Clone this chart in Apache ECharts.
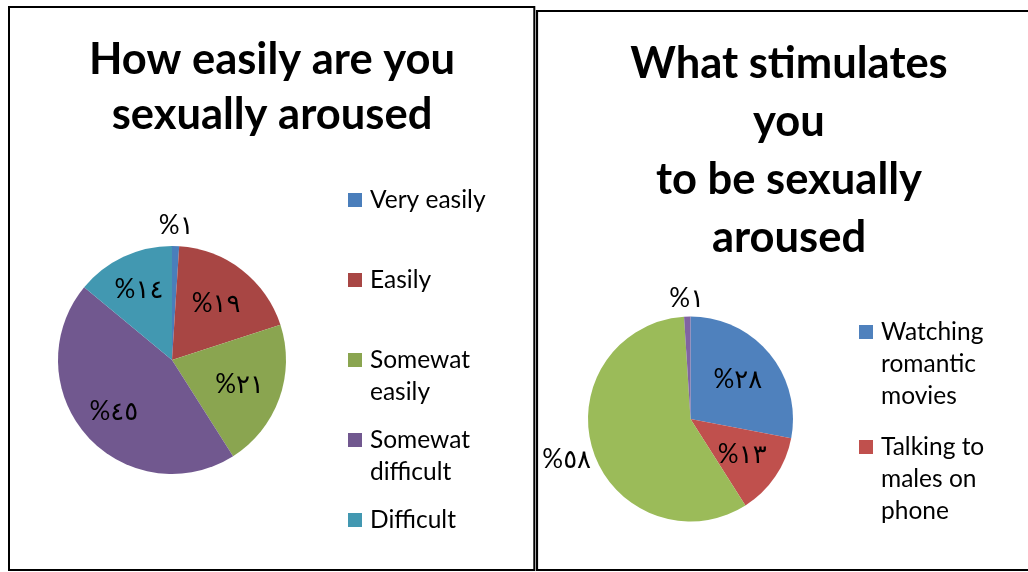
<!DOCTYPE html>
<html><head><meta charset="utf-8">
<script src="https://cdn.jsdelivr.net/npm/echarts@6/dist/echarts.min.js"></script>
<style>html,body{margin:0;padding:0;background:#fff;overflow:hidden}#c{width:1028px;height:572px}</style>
</head><body><div id="c"></div>
<script>
// ---------- data ----------
const LEFT_TITLE = 'How easily are you\nsexually aroused';
const LEFT_CATEGORIES = ['Very easily', 'Easily', 'Somewat easily', 'Somewat difficult', 'Difficult'];
const LEFT_LEGEND_TEXT = ['Very easily', 'Easily', 'Somewat\neasily', 'Somewat\ndifficult', 'Difficult'];
const LEFT_VALUES = [1, 19, 21, 45, 14];

const RIGHT_TITLE = 'What stimulates\nyou\nto be sexually\naroused';
const RIGHT_CATEGORIES = ['Watching romantic movies', 'Talking to males on phone', 'Other', 'Other (small)'];
const RIGHT_LEGEND_TEXT = ['Watching\nromantic\nmovies', 'Talking to\nmales on\nphone'];
const RIGHT_VALUES = [28, 13, 58, 1];

// ---------- style / layout ----------
const LEFT_COLORS = ['#4A7EBB', '#A84644', '#8AA550', '#71588F', '#4298B1'];
const RIGHT_COLORS = ['#4F81BD', '#C0504D', '#9BBB59', '#8064A2'];
const LEFT_GEO = {cx: 172, cy: 360, r: 114};
const RIGHT_GEO = {cx: 690.5, cy: 419, r: 102.5};
const LEFT_LABEL_R = [1.18, 0.63, 0.63, 0.68, 0.68];
const RIGHT_LABEL_R = [0.6, 0.61, 1.27, 1.18];
const LEFT_LEGEND_POS = {left: 348, firstCenter: 200, step: 80};
const RIGHT_LEGEND_POS = {left: 859, firstCenter: 332, step: 115};
const TEXT_FONT = 'Lato, "DejaVu Sans", sans-serif';
const LABEL_FONT = 'Lato, "DejaVu Sans", sans-serif';
const LEG_LH = 32;

const ARABIC_DIGITS = '٠١٢٣٤٥٦٧٨٩';
const toArabic = v => '%' + String(v).replace(/\d/g, d => ARABIC_DIGITS[+d]);

function pieSeries(cats, vals, colors, geo, radii) {
  return {
    type: 'pie',
    center: [geo.cx, geo.cy],
    radius: geo.r,
    startAngle: 90,
    clockwise: true,
    emphasis: {scale: false},
    itemStyle: {borderWidth: 0},
    data: cats.map((n, i) => ({name: n, value: vals[i], itemStyle: {color: colors[i]}})),
    label: {
      show: true, position: 'inside',
      formatter: p => toArabic(p.value),
      fontSize: 26, fontFamily: LABEL_FONT, color: '#000'
    },
    labelLine: {show: false},
    labelLayout: function (p) {
      const lx = p.labelRect.x + p.labelRect.width / 2;
      const ly = p.labelRect.y + p.labelRect.height / 2;
      const ddx = lx - geo.cx, ddy = ly - geo.cy;
      const d = Math.hypot(ddx, ddy) || 1;
      const f = radii[p.dataIndex] * geo.r / d - 1;
      return {dx: ddx * f, dy: ddy * f};
    }
  };
}

// one legend component per entry, so the square sits on the first text line
function legendsFor(cats, texts, pos) {
  return texts.map((txt, i) => {
    const n = txt.split('\n').length;
    const shown = '\n'.repeat(n - 1) + txt;
    const center = pos.firstCenter + i * pos.step;
    return {
      orient: 'vertical', left: pos.left, top: center - (2 * n - 1) * LEG_LH / 2,
      padding: 0, itemWidth: 14, itemHeight: 14, icon: 'rect', selectedMode: false,
      data: [cats[i]],
      formatter: () => shown,
      textStyle: {fontSize: 24.5, lineHeight: LEG_LH, fontFamily: TEXT_FONT, color: '#000', padding: [0, 0, 0, 3]}
    };
  });
}

const chart = echarts.init(document.getElementById('c'), null, {renderer: 'canvas'});
chart.setOption({
  backgroundColor: '#fff',
  animation: false,
  title: [
    {text: LEFT_TITLE, left: 272, top: 32, textAlign: 'center', padding: 0,
     textStyle: {fontSize: 43.5, fontWeight: 'bold', lineHeight: 55, fontFamily: TEXT_FONT, color: '#000'}},
    {text: RIGHT_TITLE, left: 789, top: 35, textAlign: 'center', padding: 0,
     textStyle: {fontSize: 43.5, fontWeight: 'bold', lineHeight: 58, fontFamily: TEXT_FONT, color: '#000'}}
  ],
  legend: legendsFor(LEFT_CATEGORIES, LEFT_LEGEND_TEXT, LEFT_LEGEND_POS)
    .concat(legendsFor(RIGHT_CATEGORIES, RIGHT_LEGEND_TEXT, RIGHT_LEGEND_POS)),
  graphic: [
    {type: 'rect', shape: {x: 9, y: 7, width: 525.3, height: 563}, style: {fill: 'none', stroke: '#000', lineWidth: 2}, silent: true},
    {type: 'rect', shape: {x: 537, y: 11, width: 500, height: 559}, style: {fill: 'none', stroke: '#000', lineWidth: 2.2}, silent: true}
  ],
  series: [
    pieSeries(LEFT_CATEGORIES, LEFT_VALUES, LEFT_COLORS, LEFT_GEO, LEFT_LABEL_R),
    pieSeries(RIGHT_CATEGORIES, RIGHT_VALUES, RIGHT_COLORS, RIGHT_GEO, RIGHT_LABEL_R)
  ]
});
</script></body></html>
